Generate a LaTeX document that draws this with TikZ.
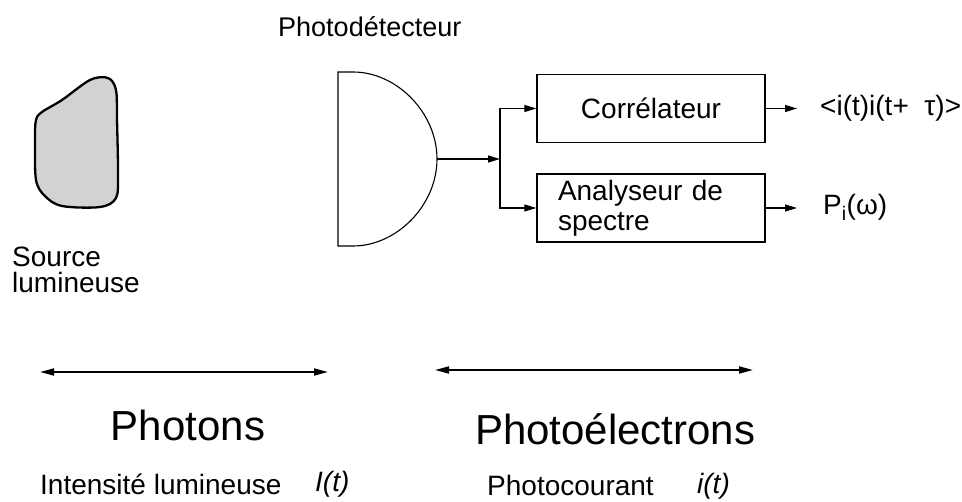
\documentclass[tikz,border=0pt]{standalone}
\usepackage{fontspec}
\setmainfont{Liberation Sans}
\usetikzlibrary{arrows.meta}

\tikzset{
  txt/.style={inner sep=0, font=\fontsize{28}{26}\selectfont},
  big/.style={inner sep=0, font=\fontsize{42}{44}\selectfont},
  boite/.style={draw, line width=1.3, minimum width=228, minimum height=68, inner sep=0, font=\fontsize{28}{30}\selectfont},
  fl/.style={line width=1.1, -{Triangle[length=12pt,width=7pt]}},
  dfl/.style={line width=1.8, {Triangle[length=14pt,width=7pt]}-{Triangle[length=14pt,width=7pt]}},
}

\begin{document}
\begin{tikzpicture}[x=1pt, y=-1pt]
\useasboundingbox (0,0) rectangle (962,502);

\draw[line width=2.3, fill=gray!35] plot[smooth cycle, tension=0.55] coordinates {(42,112) (62,100) (90,80) (108,78) (116,90) (117,120) (118,173) (116,198) (100,207) (62,206) (45,196) (36,180) (35,140) (36,120)};
\node[txt, anchor=north west, align=left] (src) at (12,247) {Source\\lumineuse};

\node[txt, anchor=base west, font=\fontsize{27}{29}\selectfont] (lbldet) at (278,37) {Photodétecteur};
\draw[line width=1.1] (338,72) -- (353,72) .. controls (397,72) and (437,113) .. (437,159) .. controls (437,205) and (397,246) .. (353,246) -- (338,246) -- cycle;
\coordinate (det) at (437,159);
\coordinate (jn) at (500,159);

\node[boite] (corr) at (651,108.5) {Corrélateur};
\node[boite, align=left, text width=186, inner xsep=21] (anal) at (651,208) {Analyseur de\\spectre};

\draw[fl] (det) -- (jn);
\draw[fl] (jn) |- (corr.west);
\draw[fl] (jn) |- (anal.west);

\node[txt, anchor=base west] (corrout) at (820,116) {<i(t)i(t+\ \ τ)>};
\node[txt, anchor=base west] (analout) at (823,215) {P\textsubscript{i}(ω)};
\draw[fl, shorten >=23] (corr.east) -- (corr.east -| corrout.west);
\draw[fl, shorten >=26] (anal.east) -- (anal.east -| analout.west);

\coordinate (pa) at (40,372);
\coordinate (pb) at (328,372);
\coordinate (ea) at (435,370);
\coordinate (eb) at (753,370);
\draw[dfl] (pa) -- (pb);
\draw[dfl] (ea) -- (eb);

\node[big, anchor=base] (photons) at (188,441) {Photons};
\node[big, anchor=base west] (photoel) at (475,445) {Photoélectrons};
\node[txt, anchor=base west] (intens) at (40,495) {Intensité lumineuse};
\node[txt, anchor=base west] (grandi) at (315,492) {\itshape I(t)};
\node[txt, anchor=base west] (photoc) at (487,496) {Photocourant};
\node[txt, anchor=base west] (petiti) at (697,494) {\itshape i(t)};

\end{tikzpicture}
\end{document}
